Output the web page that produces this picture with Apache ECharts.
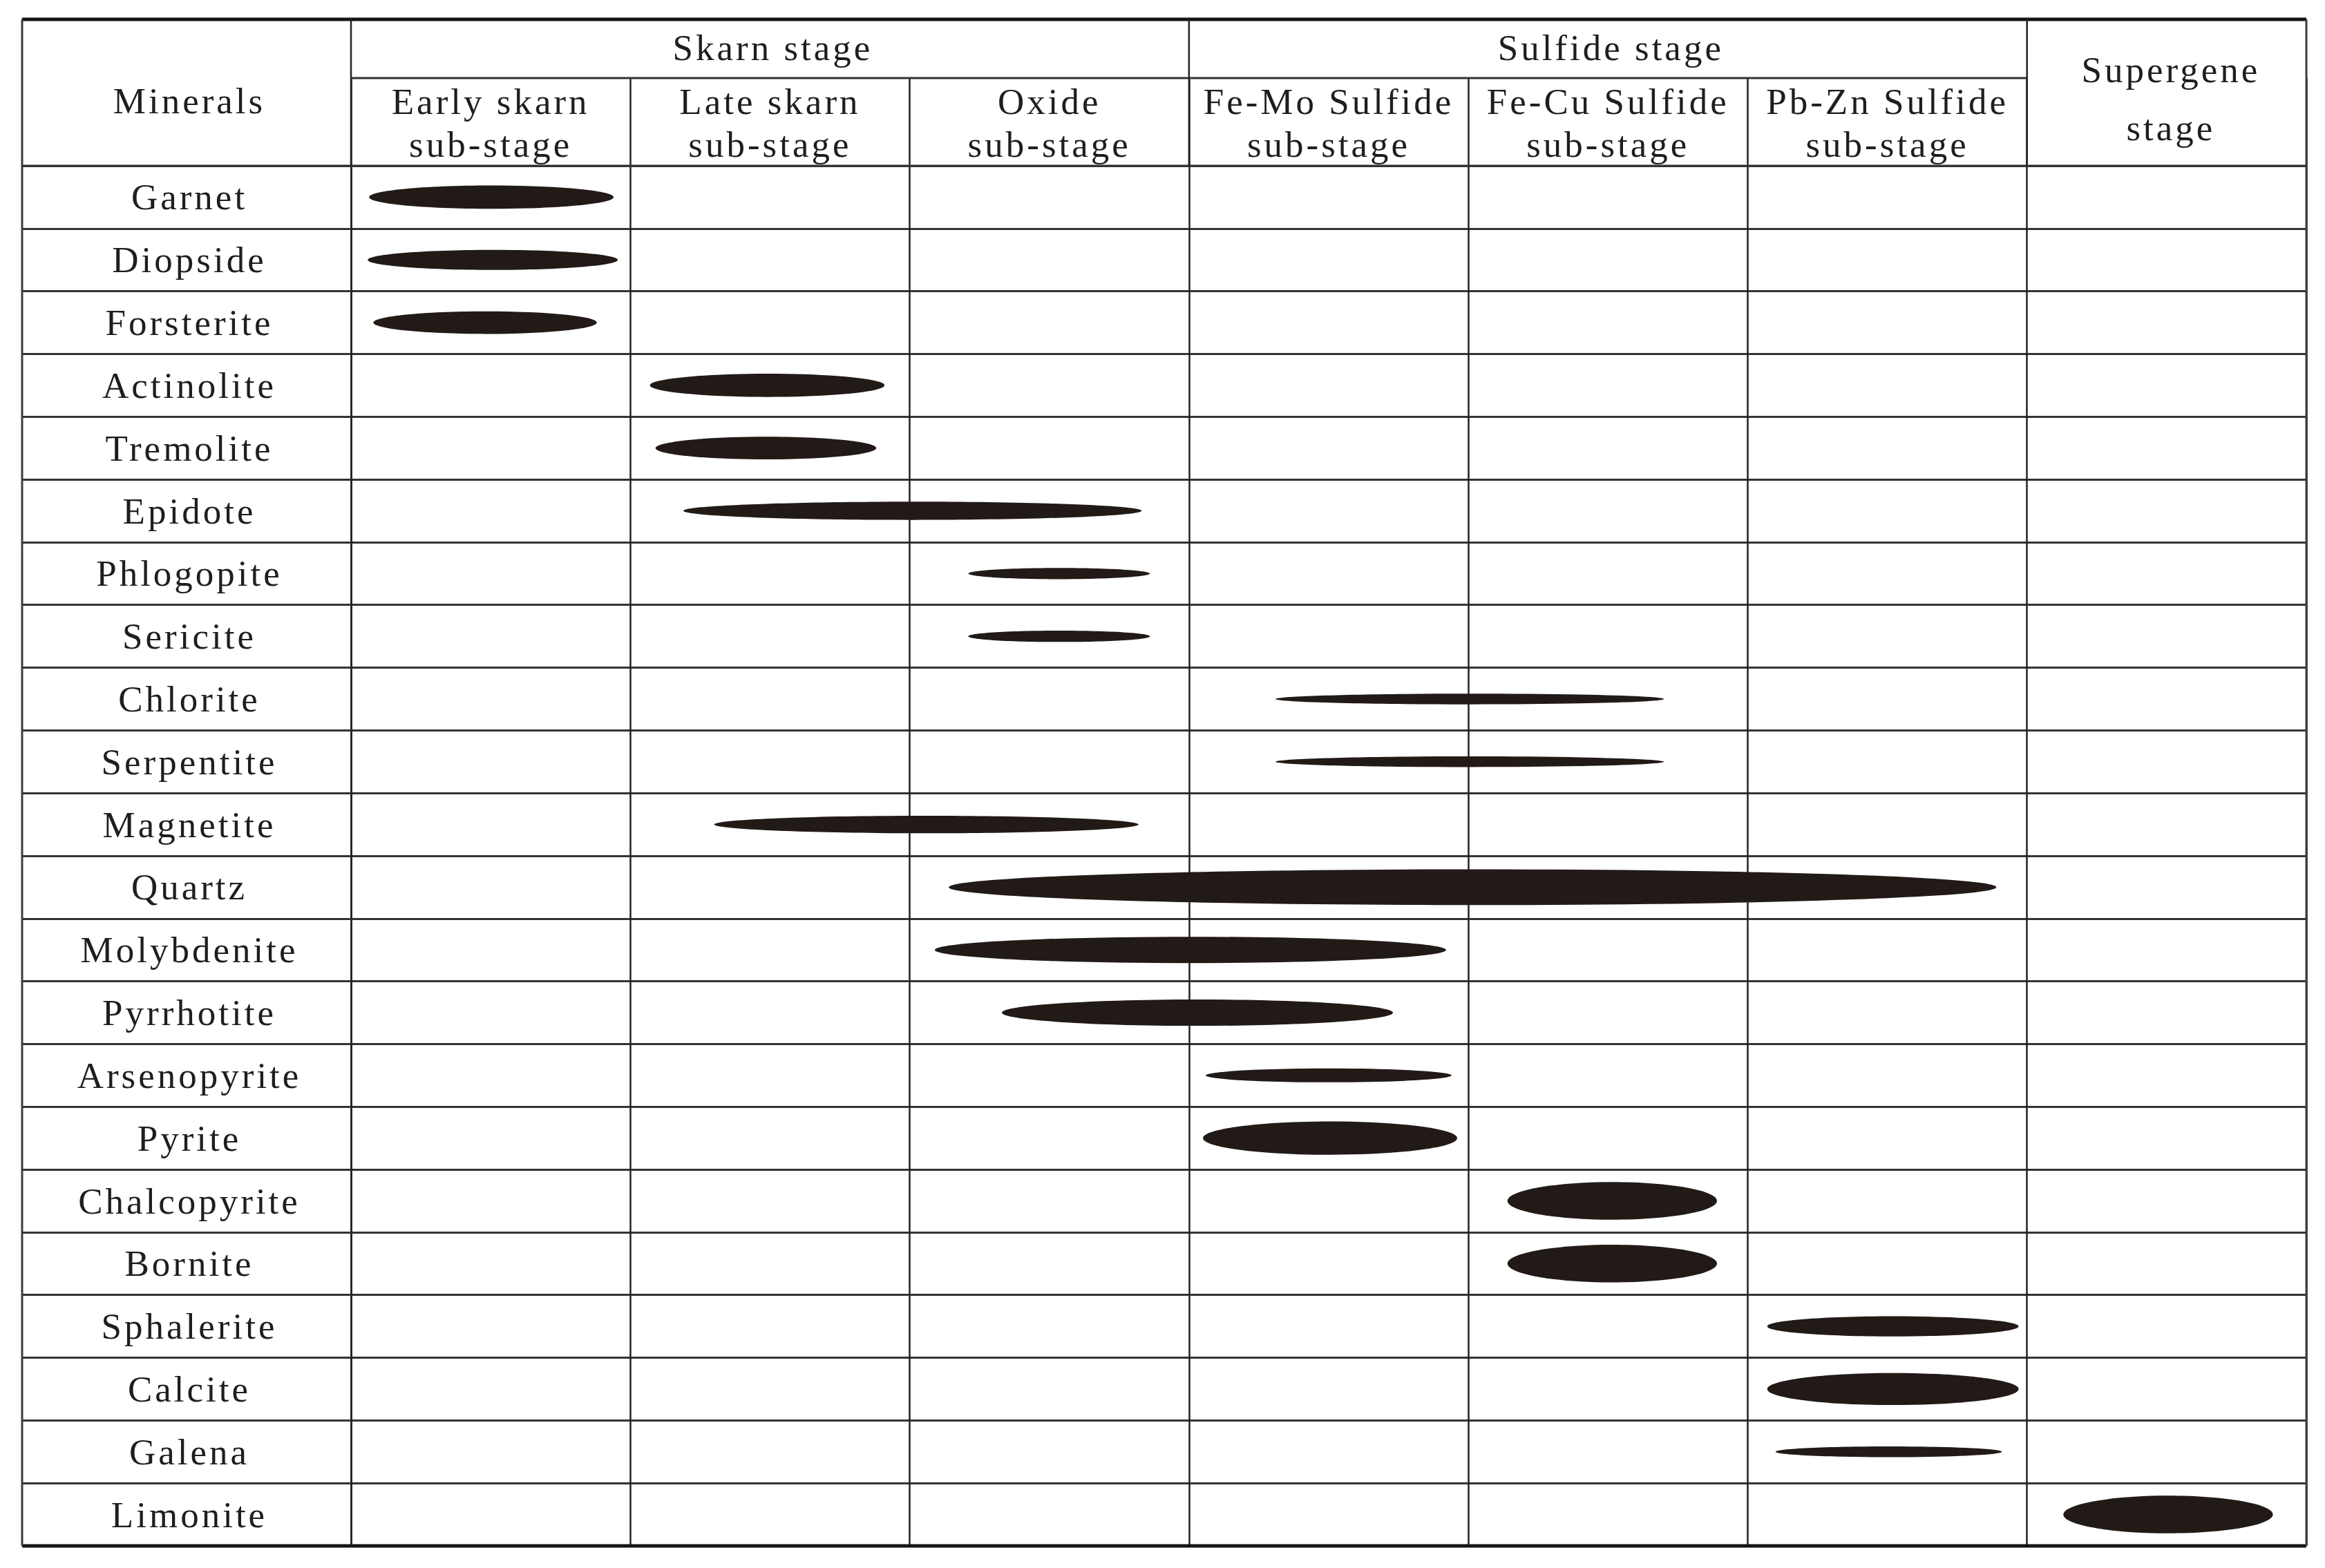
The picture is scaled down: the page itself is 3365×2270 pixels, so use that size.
<!DOCTYPE html>
<html>
<head>
<meta charset="utf-8">
<script src="https://cdn.jsdelivr.net/npm/echarts@6/dist/echarts.min.js"></script>
<style>
html, body { margin: 0; padding: 0; background: #ffffff; }
#chart { width: 3365px; height: 2270px; }
#chart text { letter-spacing: 4px; }
</style>
</head>
<body>
<div id="chart"></div>
<script>
// ---------- data ----------
const minerals = ['Garnet', 'Diopside', 'Forsterite', 'Actinolite', 'Tremolite', 'Epidote',
  'Phlogopite', 'Sericite', 'Chlorite', 'Serpentite', 'Magnetite', 'Quartz', 'Molybdenite',
  'Pyrrhotite', 'Arsenopyrite', 'Pyrite', 'Chalcopyrite', 'Bornite', 'Sphalerite', 'Calcite',
  'Galena', 'Limonite'];
const subStages = ['Early skarn\nsub-stage', 'Late skarn\nsub-stage', 'Oxide\nsub-stage',
  'Fe-Mo Sulfide\nsub-stage', 'Fe-Cu Sulfide\nsub-stage', 'Pb-Zn Sulfide\nsub-stage', ''];
const stageNames = ['Skarn stage', 'Sulfide stage', 'Supergene\nstage'];
const stageSpans = [3, 3, 1];   // number of sub-stage columns per stage
// occurrence range along the paragenetic sequence (sub-stage units, 0..7)
const startPos = [0.065, 0.06, 0.08, 1.07, 1.09, 1.19, 2.21, 2.21, 3.31, 3.31, 1.30, 2.14, 2.09,
  2.33, 3.06, 3.05, 4.14, 4.14, 5.07, 5.07, 5.10, 6.13];
const endPos = [0.94, 0.955, 0.88, 1.91, 1.88, 2.83, 2.86, 2.86, 4.70, 4.70, 2.82, 5.89, 3.92,
  3.73, 3.94, 3.96, 4.89, 4.89, 5.97, 5.97, 5.91, 6.88];
// relative abundance (fraction of a row)
const abundance = [0.37, 0.32, 0.36, 0.37, 0.36, 0.29, 0.18, 0.18, 0.17, 0.17, 0.28, 0.57, 0.42,
  0.42, 0.22, 0.53, 0.60, 0.60, 0.32, 0.51, 0.17, 0.60];

const seriesData = minerals.map((m, i) => [startPos[i], endPos[i], i, abundance[i]]);

// ---------- layout ----------
const FONT = '"Liberation Serif", "Times New Roman", serif';
const FS = 53;
const TXT = '#1e1e1e';
const GL = 508, GR = 3338, GT = 240, GB = 2238;   // grid box
const TL = 32, TT = 28, MID = 113;                 // table outer left/top, header mid line
const NCOL = subStages.length;
const colX = k => GL + k * (GR - GL) / NCOL;

const chart = echarts.init(document.getElementById('chart'), null, { renderer: 'svg' });

const graphics = [];
const line = (x1, y1, x2, y2, w, c) => graphics.push({
  type: 'line', silent: true, z: 50,
  shape: { x1, y1, x2, y2 }, style: { stroke: c, lineWidth: w }
});
const text = (x, y, t, lh) => graphics.push({
  type: 'text', silent: true, z: 50, x, y,
  style: { text: t, fill: TXT, font: FS + 'px ' + FONT, align: 'center', verticalAlign: 'middle', lineHeight: lh || 62 }
});

// header structure
line(TL, TT, GR, TT, 5, '#141414');
line(TL, GB, GR, GB, 5, '#141414');
line(TL, TT, TL, GB, 3, '#3c3c3c');
line(GR, TT, GR, GB, 3, '#3c3c3c');
line(TL, GT, GR, GT, 3, '#333333');
let c = 0;
stageSpans.forEach((span, i) => {
  const x0 = colX(c), x1 = colX(c + span);
  line(x0, TT, x0, GT, 2.5, '#222222');
  if (span > 1) {
    line(x0, MID, x1, MID, 3, '#333333');
    text((x0 + x1) / 2 + 4, (TT + MID) / 2 - 2, stageNames[i]);
  } else {
    text((x0 + x1) / 2 + 6, (TT + GT) / 2 + 9, stageNames[i], 84);
  }
  c += span;
});
text((TL + GL) / 2 + 4, (TT + GT) / 2 + 12, 'Minerals');

const option = {
  backgroundColor: '#ffffff',
  animation: false,
  grid: { left: GL, right: 3365 - GR, top: GT, bottom: 2270 - GB, containLabel: false },
  xAxis: [
    {
      type: 'value', min: 0, max: NCOL, interval: 1,
      axisLabel: { show: false }, axisTick: { show: false }, axisLine: { show: false },
      splitLine: { show: true, showMinLine: true, showMaxLine: true, lineStyle: { color: '#222222', width: 2.5 } }
    },
    {
      type: 'category', position: 'top', data: subStages,
      axisLine: { show: false },
      axisTick: { show: true, interval: 0, length: GT - MID, lineStyle: { color: '#222222', width: 2.5 } },
      axisLabel: { interval: 0, margin: 0, color: TXT, fontFamily: FONT, fontSize: FS, lineHeight: 62 },
      splitLine: { show: false }
    }
  ],
  yAxis: {
    type: 'category', inverse: true, data: minerals,
    axisLine: { show: true, lineStyle: { color: '#222222', width: 2.5 } },
    axisTick: { show: true, interval: 0, length: GL - TL, lineStyle: { color: '#333333', width: 3 } },
    axisLabel: { interval: 0, margin: (GL - TL) / 2 - 4, align: 'center', color: TXT, fontFamily: FONT, fontSize: FS },
    splitLine: { show: true, interval: 0, lineStyle: { color: '#333333', width: 3 } }
  },
  series: [{
    type: 'custom',
    xAxisIndex: 0, yAxisIndex: 0,
    data: seriesData,
    encode: { x: [0, 1], y: 2 },
    renderItem: function (params, api) {
      const s = api.value(0), e = api.value(1), yi = api.value(2), a = api.value(3);
      const p0 = api.coord([s, yi]);
      const p1 = api.coord([e, yi]);
      const band = api.size([0, 1])[1];
      return {
        type: 'ellipse',
        shape: { cx: (p0[0] + p1[0]) / 2, cy: p0[1], rx: (p1[0] - p0[0]) / 2, ry: a * band / 2 },
        style: { fill: '#211a17' }
      };
    }
  }],
  graphic: graphics
};
chart.setOption(option);
</script>
</body>
</html>
